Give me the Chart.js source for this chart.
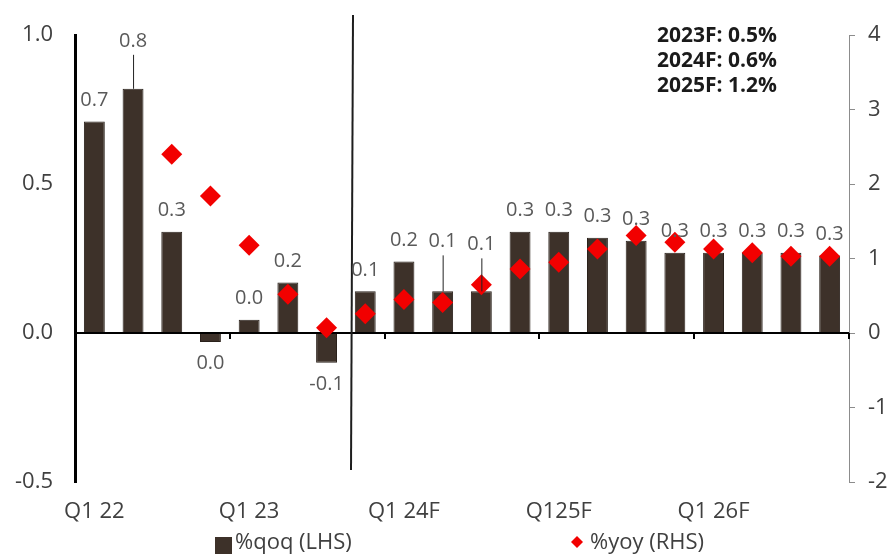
<!DOCTYPE html>
<html>
<head>
<meta charset="utf-8">
<script src="https://cdn.jsdelivr.net/npm/chart.js@4/dist/chart.umd.min.js"></script>
<style>
  html, body { margin: 0; padding: 0; background: #fff; }
</style>
</head>
<body>
<canvas id="gdpChart" width="891" height="555"></canvas>
<script>
const quarters = ['Q1 22','Q2 22','Q3 22','Q4 22','Q1 23','Q2 23','Q3 23','Q4 23','Q1 24','Q2 24',
                  'Q3 24','Q4 24','Q1 25','Q2 25','Q3 25','Q4 25','Q1 26','Q2 26','Q3 26','Q4 26'];
const tickLabels = ['Q1 22','','','','Q1 23','','','','Q1 24F','','','','Q125F','','','','Q1 26F','','',''];
const qoq = [0.71, 0.82, 0.34, -0.03, 0.045, 0.17, -0.1, 0.14, 0.24, 0.14,
             0.14, 0.34, 0.34, 0.32, 0.31, 0.27, 0.27, 0.27, 0.27, 0.26];
const yoy = [null, null, 2.4, 1.84, 1.18, 0.52, 0.07, 0.26, 0.45, 0.41,
             0.65, 0.86, 0.95, 1.13, 1.31, 1.22, 1.13, 1.08, 1.03, 1.03];
const annualForecasts = ['2023F: 0.5%', '2024F: 0.6%', '2025F: 1.2%'];

const FONT = '"Open Sans", sans-serif';
const BAR_COLOR = '#3d3129';
const RED = '#f20000';
const TEXT = '#404040';

// labels pushed up with a leader line down to the bar
const raisedLabels = { 1: 27, 9: 29, 10: 26 };

function fmt(v) {
    if (Math.abs(v) < 0.05) return '0.0';
    return v.toFixed(1);
}

const extras = {
    id: 'extras',
    afterDatasetsDraw(chart) {
        const { ctx, scales: { x, y } } = chart;
        const y0 = y.getPixelForValue(0);

        // small ticks on the zero line every four quarters
        ctx.save();
        ctx.strokeStyle = '#000';
        ctx.lineWidth = 2;
        for (let i = 4; i <= quarters.length; i += 4) {
            const bx = Math.round(x.getPixelForValue(i - 0.5));
            ctx.beginPath();
            ctx.moveTo(bx, y0);
            ctx.lineTo(bx, y0 + 6);
            ctx.stroke();
        }

        // actual / forecast divider
        const xs = Math.round(x.getPixelForValue(6.65));
        ctx.strokeStyle = '#1e1e1e';
        ctx.lineWidth = 2;
        ctx.beginPath();
        ctx.moveTo(xs + 1, 15);
        ctx.lineTo(xs - 1, 470);
        ctx.stroke();

        // bar value labels
        const bars = chart.getDatasetMeta(0).data;
        ctx.font = '20px ' + FONT;
        ctx.fillStyle = '#595959';
        ctx.textAlign = 'center';
        ctx.textBaseline = 'middle';
        bars.forEach((bar, i) => {
            const v = qoq[i];
            if (v >= 0) {
                const lift = raisedLabels[i] || 0;
                const ty = bar.y - 21 - lift;
                ctx.fillText(fmt(v), bar.x, ty);
                if (lift) {
                    ctx.save();
                    ctx.strokeStyle = '#222';
                    ctx.lineWidth = 1;
                    ctx.beginPath();
                    ctx.moveTo(bar.x + 0.5, ty + 14);
                    ctx.lineTo(bar.x + 0.5, bar.y);
                    ctx.stroke();
                    ctx.restore();
                }
            } else {
                ctx.fillText(fmt(v), bar.x, bar.y + 21);
            }
        });
        ctx.restore();
    },
    afterDraw(chart) {
        const { ctx } = chart;
        ctx.save();

        // annual forecast box
        ctx.font = 'bold 21px ' + FONT;
        ctx.fillStyle = '#1a1a1a';
        ctx.textAlign = 'left';
        ctx.textBaseline = 'middle';
        annualForecasts.forEach((t, i) => ctx.fillText(t, 657, 36 + i * 25));

        // legend
        const ds = chart.data.datasets;
        ctx.font = '22px ' + FONT;
        ctx.fillStyle = BAR_COLOR;
        ctx.fillRect(215, 537, 17, 17);
        ctx.fillStyle = TEXT;
        ctx.fillText(ds[0].label, 235, 543);

        ctx.fillStyle = RED;
        ctx.beginPath();
        ctx.moveTo(577, 536);
        ctx.lineTo(583, 542);
        ctx.lineTo(577, 548);
        ctx.lineTo(571, 542);
        ctx.closePath();
        ctx.fill();
        ctx.fillStyle = TEXT;
        ctx.fillText(ds[1].label, 590, 543);
        ctx.restore();
    }
};

const ctx = document.getElementById('gdpChart').getContext('2d');
const gdpChart = new Chart(ctx, {
    data: {
        labels: quarters,
        datasets: [{
            type: 'bar',
            label: '%qoq (LHS)',
            data: qoq,
            yAxisID: 'y',
            backgroundColor: BAR_COLOR,
            borderColor: '#2a211b',
            borderWidth: 1,
            barPercentage: 0.54,
            categoryPercentage: 1,
            order: 2
        }, {
            type: 'line',
            label: '%yoy (RHS)',
            data: yoy,
            yAxisID: 'y1',
            showLine: false,
            pointStyle: 'rectRot',
            pointRadius: 10.5,
            pointBackgroundColor: RED,
            pointBorderColor: RED,
            pointBorderWidth: 0,
            order: 1
        }]
    },
    options: {
        responsive: false,
        animation: false,
        devicePixelRatio: 1,
        layout: { padding: { top: 30, left: 0, right: 0, bottom: 0 } },
        plugins: {
            legend: { display: false },
            tooltip: { enabled: false }
        },
        scales: {
            x: {
                grid: { display: false, drawTicks: false },
                border: { display: false },
                ticks: {
                    autoSkip: false,
                    maxRotation: 0,
                    padding: 17,
                    color: TEXT,
                    font: { family: FONT, size: 22 },
                    callback: (v, i) => tickLabels[i]
                },
                afterFit(scale) { scale.height = 73; }
            },
            y: {
                position: 'left',
                min: -0.5,
                max: 1,
                ticks: {
                    stepSize: 0.5,
                    padding: 22,
                    color: TEXT,
                    font: { family: FONT, size: 22 },
                    callback: v => v.toFixed(1)
                },
                grid: {
                    drawTicks: false,
                    lineWidth: 2,
                    color: c => (c.tick && c.tick.value === 0) ? '#000' : 'rgba(0,0,0,0)'
                },
                border: { display: true, color: '#000', width: 3 },
                afterFit(scale) { scale.width = 75; }
            },
            y1: {
                position: 'right',
                min: -2,
                max: 4,
                ticks: {
                    stepSize: 1,
                    padding: 13,
                    color: TEXT,
                    font: { family: FONT, size: 22 }
                },
                grid: { drawOnChartArea: false, color: '#8c8c8c', tickLength: 6 },
                border: { display: true, color: '#8c8c8c', width: 1 },
                afterFit(scale) { scale.width = 42; }
            }
        }
    },
    plugins: [extras]
});
</script>
</body>
</html>
